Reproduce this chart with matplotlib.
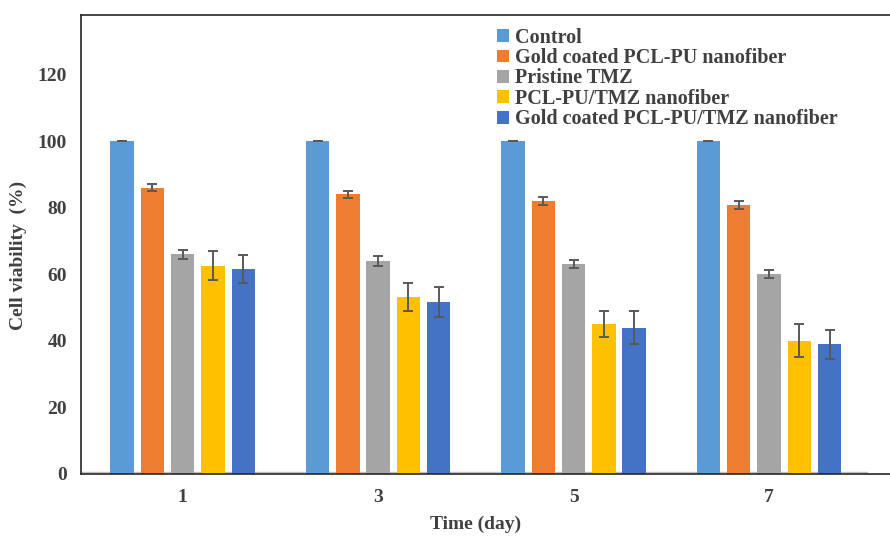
import matplotlib
matplotlib.use("Agg")
import matplotlib.pyplot as plt
import numpy as np

plt.rcParams['font.family'] = ['Liberation Serif', 'DejaVu Serif']
plt.rcParams['font.weight'] = 'bold'

# data
days = ["1", "3", "5", "7"]
series_names = ["Control", "Gold coated PCL-PU nanofiber", "Pristine TMZ",
                "PCL-PU/TMZ nanofiber", "Gold coated PCL-PU/TMZ nanofiber"]
control = [100, 100, 100, 100]
gold_pclpu = [86.1, 84.1, 82.1, 81.0]
pristine_tmz = [66.0, 64.1, 63.0, 60.1]
pclpu_tmz = [62.6, 53.1, 45.2, 40.1]
gold_pclpu_tmz = [61.6, 51.8, 44.0, 39.0]
err_control = [0, 0, 0, 0]
err_gold_pclpu = [1.0, 1.0, 1.2, 1.2]
err_pristine = [1.4, 1.5, 1.2, 1.1]
err_pclpu_tmz = [4.4, 4.2, 3.9, 4.9]
err_gold_pclpu_tmz = [4.2, 4.5, 4.9, 4.3]

values = [control, gold_pclpu, pristine_tmz, pclpu_tmz, gold_pclpu_tmz]
errors = [err_control, err_gold_pclpu, err_pristine, err_pclpu_tmz, err_gold_pclpu_tmz]
colors = ["#5B9BD5", "#ED7D31", "#A5A5A5", "#FFC000", "#4472C4"]
text_color = '#404040'

fig = plt.figure(figsize=(8.9, 5.36), dpi=100)
ax = fig.add_axes([81/890, 62/536, 1 - 81/890 + 0.002, 459/536])

x = np.arange(len(days))
stride = 0.155
width = 0.12
for i in range(5):
    ax.bar(x + (i - 2) * stride, values[i], width, color=colors[i],
           label=series_names[i], zorder=2)
    ax.errorbar(x + (i - 2) * stride, values[i], yerr=errors[i], fmt='none',
                ecolor='#595959', elinewidth=1.4, capsize=3.8, capthick=1.4, zorder=3)

ax.set_xlim(-0.52, 3.628)
ax.set_ylim(0, 138)
ax.set_yticks([0, 20, 40, 60, 80, 100, 120])
ax.set_xticks(x)
ax.set_xticklabels(days)
ax.tick_params(length=0, labelsize=14, labelcolor=text_color)
ax.tick_params(axis='y', pad=10)
ax.tick_params(axis='x', pad=11)

for s in ['left', 'top', 'bottom']:
    ax.spines[s].set_color('#262626')
    ax.spines[s].set_linewidth(1.2)
ax.spines['right'].set_visible(False)
# light gray category axis line just above the frame
ax.plot([-0.52, 3.5], [0.6, 0.6], color='#BFBFBF', lw=1.0, zorder=1)

ax.set_ylabel("Cell viability  (%)", fontsize=14, fontweight='bold', color=text_color)
ax.set_xlabel("Time (day)", fontsize=14, fontweight='bold', color=text_color)
ax.yaxis.set_label_coords((27 - 81) / 809, 0.477)
ax.xaxis.set_label_coords((475 - 81) / 809, -0.0915)

leg = ax.legend(loc='upper left', bbox_to_anchor=(0.503, 0.99), frameon=False,
                prop={'size': 14.5, 'weight': 'bold'}, handlelength=0.6, handleheight=0.6,
                handletextpad=0.3, labelspacing=0.02, borderaxespad=0)
for t in leg.get_texts():
    t.set_color(text_color)

fig.savefig("out.png", dpi=100)
